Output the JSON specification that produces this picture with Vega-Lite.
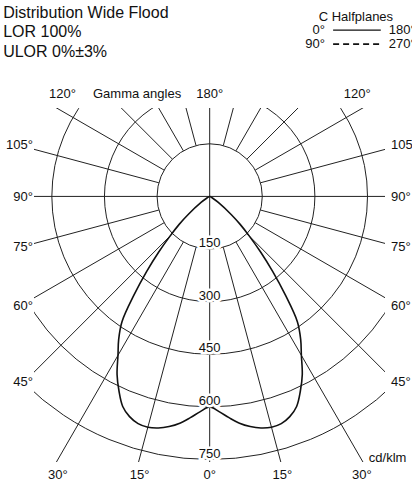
{
  "$schema": "https://vega.github.io/schema/vega-lite/v6.json",
  "width": 351,
  "height": 354,
  "autosize": "none",
  "padding": {"left": 34, "top": 108, "right": 27, "bottom": 24},
  "background": "white",
  "config": {"view": {"stroke": null}, "font": "Liberation Sans", "text": {"font": "Liberation Sans"}},
  "layer": [
    {
      "data": {"values": [{"ring": 150}, {"ring": 300}, {"ring": 450}, {"ring": 600}, {"ring": 750}]},
      "mark": {"type": "point", "shape": "circle", "filled": false, "stroke": "#222", "strokeWidth": 1, "opacity": 1, "clip": true},
      "encoding": {
        "x": {"datum": 0, "type": "quantitative", "scale": {"domain": [-501, 500], "nice": false, "zero": false}, "axis": null},
        "y": {"datum": 0, "type": "quantitative", "scale": {"domain": [-757, 252], "nice": false, "zero": false}, "axis": null},
        "size": {"field": "ring", "type": "quantitative", "scale": {"type": "pow", "exponent": 2, "domain": [0, 750], "range": [0, 276800]}, "legend": null}
      }
    },
    {
      "data": {"values": [
        {"g": 0, "r0": 0, "r1": 1200}, {"g": 180, "r0": 0, "r1": 1200}, {"g": 90, "r0": 0, "r1": 1200}, {"g": -90, "r0": 0, "r1": 1200},
        {"g": 15, "r0": 150, "r1": 1200}, {"g": 30, "r0": 150, "r1": 1200}, {"g": 45, "r0": 150, "r1": 1200}, {"g": 60, "r0": 150, "r1": 1200}, {"g": 75, "r0": 150, "r1": 1200},
        {"g": 105, "r0": 150, "r1": 1200}, {"g": 120, "r0": 150, "r1": 1200}, {"g": 135, "r0": 150, "r1": 1200}, {"g": 150, "r0": 150, "r1": 1200}, {"g": 165, "r0": 150, "r1": 1200},
        {"g": -15, "r0": 150, "r1": 1200}, {"g": -30, "r0": 150, "r1": 1200}, {"g": -45, "r0": 150, "r1": 1200}, {"g": -60, "r0": 150, "r1": 1200}, {"g": -75, "r0": 150, "r1": 1200},
        {"g": -105, "r0": 150, "r1": 1200}, {"g": -120, "r0": 150, "r1": 1200}, {"g": -135, "r0": 150, "r1": 1200}, {"g": -150, "r0": 150, "r1": 1200}, {"g": -165, "r0": 150, "r1": 1200}
      ]},
      "transform": [
        {"calculate": "datum.r0*sin(datum.g*PI/180)", "as": "xa"},
        {"calculate": "-datum.r0*cos(datum.g*PI/180)", "as": "ya"},
        {"calculate": "datum.r1*sin(datum.g*PI/180)", "as": "xb"},
        {"calculate": "-datum.r1*cos(datum.g*PI/180)", "as": "yb"}
      ],
      "mark": {"type": "rule", "stroke": "#222", "strokeWidth": 1, "clip": true},
      "encoding": {
        "x": {"field": "xa", "type": "quantitative", "scale": {"domain": [-501, 500], "nice": false, "zero": false}, "axis": null},
        "y": {"field": "ya", "type": "quantitative", "scale": {"domain": [-757, 252], "nice": false, "zero": false}, "axis": null},
        "x2": {"field": "xb"},
        "y2": {"field": "yb"}
      }
    },
    {
      "data": {"values": [
        {"g": -90, "cd": 0}, {"g": -80, "cd": 0}, {"g": -70, "cd": 1}, {"g": -65, "cd": 3}, {"g": -60, "cd": 9}, {"g": -55, "cd": 30}, {"g": -50, "cd": 80}, {"g": -47.5, "cd": 118}, {"g": -45, "cd": 160},
        {"g": -42.5, "cd": 215}, {"g": -40, "cd": 280}, {"g": -37.5, "cd": 355}, {"g": -35, "cd": 436}, {"g": -32.5, "cd": 483}, {"g": -30, "cd": 523}, {"g": -27.5, "cd": 572},
        {"g": -25, "cd": 612}, {"g": -22.5, "cd": 648}, {"g": -20, "cd": 668}, {"g": -17.5, "cd": 679}, {"g": -15, "cd": 681}, {"g": -12.5, "cd": 676}, {"g": -10, "cd": 666},
        {"g": -7.5, "cd": 652}, {"g": -5, "cd": 633}, {"g": -2.5, "cd": 614}, {"g": 0, "cd": 600},
        {"g": 2.5, "cd": 614}, {"g": 5, "cd": 633}, {"g": 7.5, "cd": 652}, {"g": 10, "cd": 666}, {"g": 12.5, "cd": 676}, {"g": 15, "cd": 681}, {"g": 17.5, "cd": 679},
        {"g": 20, "cd": 668}, {"g": 22.5, "cd": 648}, {"g": 25, "cd": 612}, {"g": 27.5, "cd": 572}, {"g": 30, "cd": 523}, {"g": 32.5, "cd": 483}, {"g": 35, "cd": 436},
        {"g": 37.5, "cd": 355}, {"g": 40, "cd": 280}, {"g": 42.5, "cd": 215}, {"g": 45, "cd": 160}, {"g": 47.5, "cd": 118}, {"g": 50, "cd": 80}, {"g": 55, "cd": 30},
        {"g": 60, "cd": 9}, {"g": 65, "cd": 3}, {"g": 70, "cd": 1}, {"g": 80, "cd": 0}, {"g": 90, "cd": 0}
      ]},
      "transform": [
        {"calculate": "datum.cd*sin(datum.g*PI/180)", "as": "px"},
        {"calculate": "-datum.cd*cos(datum.g*PI/180)", "as": "py"}
      ],
      "mark": {"type": "line", "stroke": "#111", "strokeWidth": 1.6, "interpolate": "catmull-rom", "clip": true},
      "encoding": {
        "x": {"field": "px", "type": "quantitative", "scale": {"domain": [-501, 500], "nice": false, "zero": false}, "axis": null},
        "y": {"field": "py", "type": "quantitative", "scale": {"domain": [-757, 252], "nice": false, "zero": false}, "axis": null},
        "order": {"field": "g", "type": "quantitative"}
      }
    },
    {
      "data": {"values": [{"label": "150", "x": 0, "y": -150}, {"label": "300", "x": 0, "y": -300}, {"label": "450", "x": 0, "y": -450}, {"label": "600", "x": 0, "y": -600}, {"label": "750", "x": 0, "y": -750}]},
      "layer": [
        {"mark": {"type": "text", "fontSize": 13, "align": "center", "baseline": "alphabetic", "dy": -2, "stroke": "white", "strokeWidth": 5, "fill": "white"}},
        {"mark": {"type": "text", "fontSize": 13, "align": "center", "baseline": "alphabetic", "dy": -2, "fill": "#111"}}
      ],
      "encoding": {
        "x": {"field": "x", "type": "quantitative", "scale": {"domain": [-501, 500], "nice": false, "zero": false}, "axis": null},
        "y": {"field": "y", "type": "quantitative", "scale": {"domain": [-757, 252], "nice": false, "zero": false}, "axis": null},
        "text": {"field": "label"}
      }
    },
    {
      "data": {"values": [{"label": "105°", "x": -504, "y": 146}, {"label": "90°", "x": -504, "y": -1}, {"label": "75°", "x": -504, "y": -144}, {"label": "60°", "x": -504, "y": -312}, {"label": "45°", "x": -504, "y": -529}]},
      "mark": {"type": "text", "fontSize": 13, "align": "right", "baseline": "middle", "fill": "#111"},
      "encoding": {
        "x": {"field": "x", "type": "quantitative", "scale": {"domain": [-501, 500], "nice": false, "zero": false}, "axis": null},
        "y": {"field": "y", "type": "quantitative", "scale": {"domain": [-757, 252], "nice": false, "zero": false}, "axis": null},
        "text": {"field": "label"}
      }
    },
    {
      "data": {"values": [{"label": "105°", "x": 517, "y": 146}, {"label": "90°", "x": 517, "y": -1}, {"label": "75°", "x": 517, "y": -144}, {"label": "60°", "x": 517, "y": -312}, {"label": "45°", "x": 517, "y": -529}, {"label": "cd/klm", "x": 454, "y": -747}]},
      "mark": {"type": "text", "fontSize": 13, "align": "left", "baseline": "middle", "fill": "#111"},
      "encoding": {
        "x": {"field": "x", "type": "quantitative", "scale": {"domain": [-501, 500], "nice": false, "zero": false}, "axis": null},
        "y": {"field": "y", "type": "quantitative", "scale": {"domain": [-757, 252], "nice": false, "zero": false}, "axis": null},
        "text": {"field": "label"}
      }
    },
    {
      "data": {"values": [
        {"label": "120°", "x": -420, "y": 292}, {"label": "Gamma angles", "x": -207, "y": 292}, {"label": "180°", "x": 0, "y": 292}, {"label": "120°", "x": 421, "y": 292},
        {"label": "30°", "x": -433, "y": -794}, {"label": "15°", "x": -200, "y": -794}, {"label": "0°", "x": 0, "y": -794}, {"label": "15°", "x": 207, "y": -794}, {"label": "30°", "x": 434, "y": -794},
        {"label": "C Halfplanes", "x": 417, "y": 511}
      ]},
      "mark": {"type": "text", "fontSize": 13, "align": "center", "baseline": "middle", "fill": "#111"},
      "encoding": {
        "x": {"field": "x", "type": "quantitative", "scale": {"domain": [-501, 500], "nice": false, "zero": false}, "axis": null},
        "y": {"field": "y", "type": "quantitative", "scale": {"domain": [-757, 252], "nice": false, "zero": false}, "axis": null},
        "text": {"field": "label"}
      }
    },
    {
      "data": {"values": [{"label": "0°", "x": 329, "y": 474}, {"label": "90°", "x": 329, "y": 434}]},
      "mark": {"type": "text", "fontSize": 13, "align": "right", "baseline": "middle", "fill": "#111"},
      "encoding": {
        "x": {"field": "x", "type": "quantitative", "scale": {"domain": [-501, 500], "nice": false, "zero": false}, "axis": null},
        "y": {"field": "y", "type": "quantitative", "scale": {"domain": [-757, 252], "nice": false, "zero": false}, "axis": null},
        "text": {"field": "label"}
      }
    },
    {
      "data": {"values": [{"label": "180°", "x": 511, "y": 474}, {"label": "270°", "x": 511, "y": 434}]},
      "mark": {"type": "text", "fontSize": 13, "align": "left", "baseline": "middle", "fill": "#111"},
      "encoding": {
        "x": {"field": "x", "type": "quantitative", "scale": {"domain": [-501, 500], "nice": false, "zero": false}, "axis": null},
        "y": {"field": "y", "type": "quantitative", "scale": {"domain": [-757, 252], "nice": false, "zero": false}, "axis": null},
        "text": {"field": "label"}
      }
    },
    {
      "data": {"values": [{"plane": "C0-C180", "x": 352, "x2": 488, "y": 474}]},
      "mark": {"type": "rule", "stroke": "#111", "strokeWidth": 1.2},
      "encoding": {
        "x": {"field": "x", "type": "quantitative", "scale": {"domain": [-501, 500], "nice": false, "zero": false}, "axis": null},
        "y": {"field": "y", "type": "quantitative", "scale": {"domain": [-757, 252], "nice": false, "zero": false}, "axis": null},
        "x2": {"field": "x2"}
      }
    },
    {
      "data": {"values": [{"plane": "C90-C270", "x": 352, "x2": 488, "y": 434}]},
      "mark": {"type": "rule", "stroke": "#111", "strokeWidth": 1.6, "strokeDash": [6, 4]},
      "encoding": {
        "x": {"field": "x", "type": "quantitative", "scale": {"domain": [-501, 500], "nice": false, "zero": false}, "axis": null},
        "y": {"field": "y", "type": "quantitative", "scale": {"domain": [-757, 252], "nice": false, "zero": false}, "axis": null},
        "x2": {"field": "x2"}
      }
    },
    {
      "data": {"values": [{"label": "Distribution Wide Flood", "x": -589, "y": 523}, {"label": "LOR 100%", "x": -589, "y": 469}, {"label": "ULOR 0%±3%", "x": -589, "y": 412}]},
      "mark": {"type": "text", "fontSize": 16, "align": "left", "baseline": "middle", "fill": "#111"},
      "encoding": {
        "x": {"field": "x", "type": "quantitative", "scale": {"domain": [-501, 500], "nice": false, "zero": false}, "axis": null},
        "y": {"field": "y", "type": "quantitative", "scale": {"domain": [-757, 252], "nice": false, "zero": false}, "axis": null},
        "text": {"field": "label"}
      }
    }
  ]
}
